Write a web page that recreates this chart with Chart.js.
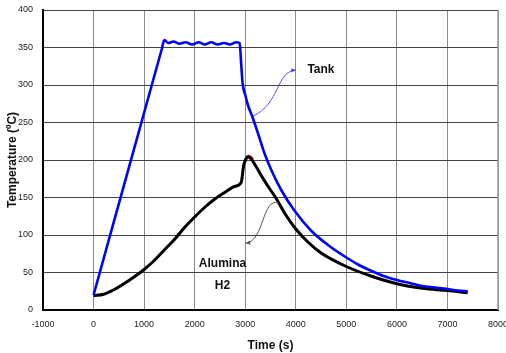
<!DOCTYPE html>
<html>
<head>
<meta charset="utf-8">
<script src="https://cdn.jsdelivr.net/npm/chart.js@4"></script>
<style>
  html, body { margin: 0; padding: 0; background: #fff; }
  #wrap { width: 506px; height: 353px; }
</style>
</head>
<body>
<div id="wrap"><canvas id="chart" width="506" height="353"></canvas></div>
<script>
// tank temperature
var tankTime = [0, 1350, 1400, 1480, 1580, 1700, 1820, 1950, 2080, 2200, 2330, 2450, 2580, 2700, 2820, 2890, 2920, 2950, 3000, 3050, 3150, 3250, 3380, 3520, 3720, 3980, 4300, 4650, 5000, 5250, 5500, 5750, 6000, 6250, 6500, 6750, 7000, 7200, 7400];
var tankTemp = [20, 348, 360, 356, 358, 355, 357, 354, 357, 354, 357, 354, 356, 354, 357, 356, 328, 301, 287, 274, 256, 236, 209, 186, 159, 132, 106, 86, 70, 60, 52, 45, 40, 36, 32, 30, 28, 26, 25];

// alumina temperature
var aluTime = [0, 200, 400, 600, 800, 1000, 1200, 1400, 1600, 1800, 2000, 2200, 2400, 2600, 2800, 2920, 2970, 3010, 3060, 3110, 3200, 3320, 3450, 3600, 3800, 4000, 4250, 4500, 5000, 5500, 6000, 6500, 7000, 7400];
var aluTemp = [19, 21, 27, 35, 44, 54, 66, 80, 94, 110, 124, 137, 148, 157, 165, 170, 193, 201, 204, 202, 193, 179, 165, 150, 127, 108, 90, 76, 58, 45, 35, 29, 26, 23];

// H2 (mostly hidden under alumina)
var h2Time = [2990, 3030, 3060, 3100, 3150];
var h2Temp = [198, 203, 205, 204, 200];

var xTicks = [-1000, 0, 1000, 2000, 3000, 4000, 5000, 6000, 7000, 8000];
var yTicks = [0, 50, 100, 150, 200, 250, 300, 350, 400];

function pts(xs, ys) {
    var out = [];
    for (var i = 0; i < xs.length; i++) out.push({x: xs[i], y: ys[i]});
    return out;
}

// curved arrows + labels, anchored in data space
var notes = [
    {text: ['Tank'], at: [4230, 321], align: 'left', color: 'rgba(40,40,255,0.8)',
     from: [3140, 258], c1: [3700, 275], c2: [3600, 318], to: [4000, 320]},
    {text: ['Alumina', 'H2'], at: [2550, 62], align: 'center', color: '#555',
     from: [3660, 143], c1: [3330, 150], c2: [3380, 92], to: [3010, 89]}
];

var notesPlugin = {
    id: 'notes',
    afterDatasetsDraw: function(chart) {
        var ctx = chart.ctx, xs = chart.scales.x, ys = chart.scales.y;
        function P(p) { return [xs.getPixelForValue(p[0]), ys.getPixelForValue(p[1])]; }
        ctx.save();
        notes.forEach(function(n) {
            var a = P(n.from), b = P(n.c1), c = P(n.c2), d = P(n.to);
            ctx.strokeStyle = n.color;
            ctx.lineWidth = 1;
            ctx.beginPath();
            ctx.moveTo(a[0], a[1]);
            ctx.bezierCurveTo(b[0], b[1], c[0], c[1], d[0], d[1]);
            ctx.stroke();
            var ang = Math.atan2(d[1] - c[1], d[0] - c[0]);
            ctx.fillStyle = n.color;
            ctx.beginPath();
            ctx.moveTo(d[0], d[1]);
            ctx.lineTo(d[0] - 5 * Math.cos(ang - 0.45), d[1] - 5 * Math.sin(ang - 0.45));
            ctx.lineTo(d[0] - 5 * Math.cos(ang + 0.45), d[1] - 5 * Math.sin(ang + 0.45));
            ctx.closePath();
            ctx.fill();
            var t = P(n.at);
            ctx.fillStyle = '#111';
            ctx.font = 'bold 12px "Liberation Sans", Arial, sans-serif';
            ctx.textAlign = n.align;
            ctx.textBaseline = 'middle';
            for (var i = 0; i < n.text.length; i++) {
                ctx.fillText(n.text[i], t[0], t[1] + i * 22);
            }
        });
        // right border
        ctx.strokeStyle = '#999';
        ctx.lineWidth = 1.5;
        ctx.beginPath();
        ctx.moveTo(xs.right, ys.top);
        ctx.lineTo(xs.right, ys.bottom);
        ctx.stroke();
        ctx.restore();
    }
};

var chart = new Chart(document.getElementById('chart'), {
    type: 'scatter',
    data: {
        datasets: [
            {
                label: 'Tank',
                data: pts(tankTime, tankTemp),
                showLine: true,
                borderColor: '#0000ff',
                borderWidth: 2.6,
                pointRadius: 0,
                cubicInterpolationMode: 'monotone',
                order: 1
            },
            {
                label: 'H2',
                data: pts(h2Time, h2Temp),
                showLine: true,
                borderColor: '#e00000',
                borderWidth: 3,
                pointRadius: 0,
                cubicInterpolationMode: 'monotone',
                order: 3
            },
            {
                label: 'Alumina',
                data: pts(aluTime, aluTemp),
                showLine: true,
                borderColor: '#000000',
                borderWidth: 3,
                pointRadius: 0,
                cubicInterpolationMode: 'monotone',
                order: 2
            }
        ]
    },
    options: {
        animation: false,
        responsive: false,
        devicePixelRatio: 1,
        layout: { padding: { top: 10, right: 8, left: 5, bottom: 0 } },
        plugins: { legend: { display: false }, tooltip: { enabled: false } },
        scales: {
            x: {
                type: 'linear',
                min: -1000,
                max: 8000,
                afterBuildTicks: function(s) { s.ticks = xTicks.map(function(v) { return {value: v}; }); },
                afterFit: function(s) { s.height = 43; s.paddingLeft = 0; s.paddingRight = 0; },
                grid: { color: '#8a8a8a', lineWidth: 1, drawTicks: false },
                border: { color: '#000', width: 2 },
                ticks: {
                    color: '#222',
                    padding: 9,
                    maxRotation: 0,
                    callback: function(v) { return String(v); },
                    font: { size: 9, family: '"Liberation Sans", Arial, sans-serif' }
                },
                title: {
                    display: true,
                    text: 'Time (s)',
                    color: '#111',
                    padding: { top: 2, bottom: 0 },
                    font: { size: 12, weight: 'bold', family: '"Liberation Sans", Arial, sans-serif' }
                }
            },
            y: {
                type: 'linear',
                min: 0,
                max: 400,
                afterBuildTicks: function(s) { s.ticks = yTicks.map(function(v) { return {value: v}; }); },
                afterFit: function(s) { s.width = 38; s.paddingTop = 0; s.paddingBottom = 0; },
                grid: { color: '#444', lineWidth: 1, drawTicks: false },
                border: { color: '#000', width: 2 },
                ticks: {
                    color: '#222',
                    padding: 10,
                    callback: function(v) { return String(v); },
                    font: { size: 9, family: '"Liberation Sans", Arial, sans-serif' }
                },
                title: {
                    display: true,
                    text: 'Temperature (ºC)',
                    color: '#111',
                    padding: { top: 0, bottom: 2 },
                    font: { size: 12, weight: 'bold', family: '"Liberation Sans", Arial, sans-serif' }
                }
            }
        }
    },
    plugins: [notesPlugin]
});
</script>
</body>
</html>
